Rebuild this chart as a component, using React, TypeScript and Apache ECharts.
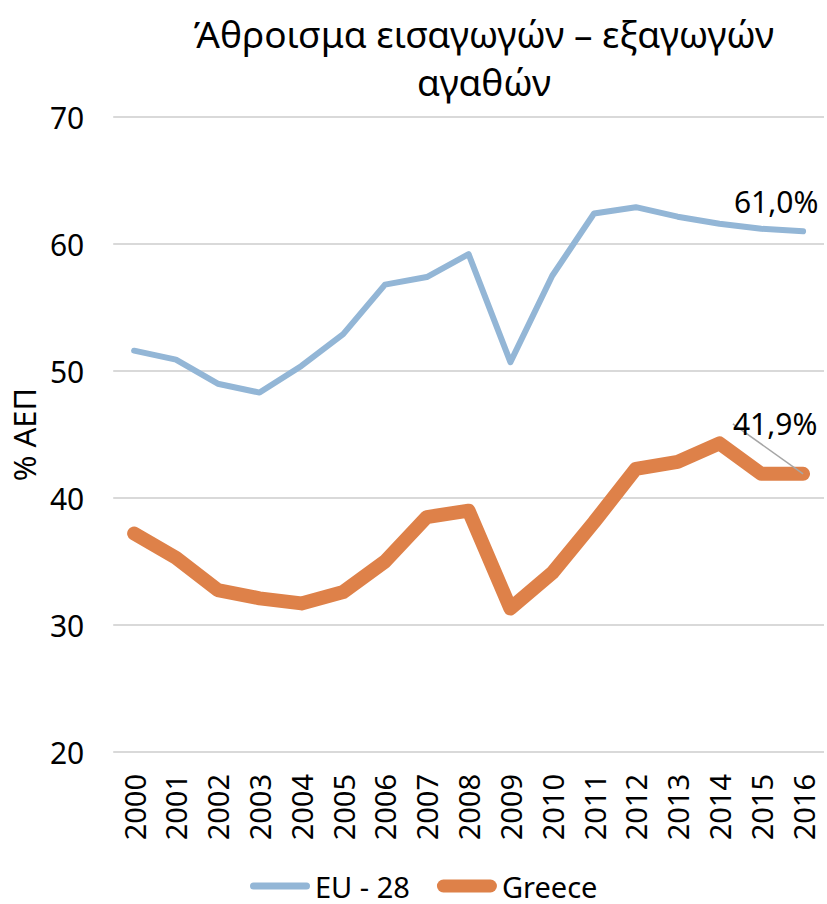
import React, { useEffect, useRef } from "react";
import * as echarts from "echarts";

const years = ["2000","2001","2002","2003","2004","2005","2006","2007","2008","2009","2010","2011","2012","2013","2014","2015","2016"];
const euValues = [51.6, 50.9, 49.0, 48.3, 50.4, 52.9, 56.8, 57.4, 59.2, 50.7, 57.5, 62.4, 62.9, 62.15, 61.6, 61.2, 61.0];
const greeceValues = [37.2, 35.3, 32.75, 32.1, 31.7, 32.6, 35.0, 38.5, 39.0, 31.3, 34.1, 38.1, 42.3, 42.85, 44.3, 41.9, 41.9];
const seriesNames = ["EU - 28", "Greece"];
const titleText = "Άθροισμα εισαγωγών – εξαγωγών\nαγαθών";
const yAxisName = "% ΑΕΠ";
const euLastLabel = "61,0%";
const greeceLastLabel = "41,9%";

const FONT = "Noto Sans";
const EU_COLOR = "#93b6d6";
const GR_COLOR = "#de8149";

const euIcon = "path://M3.5,0 L56.5,0 A3.5,3.5 0 0 1 56.5,7 L3.5,7 A3.5,3.5 0 0 1 3.5,0 Z";
const grIcon = "path://M6.5,0 L53.5,0 A6.5,6.5 0 0 1 53.5,13 L6.5,13 A6.5,6.5 0 0 1 6.5,0 Z";

export default function App() {
  const ref = useRef<HTMLDivElement>(null);
  useEffect(() => {
    document.body.style.margin = "0";
    if (!ref.current) return;
    const chart = echarts.init(ref.current, null, { renderer: "svg" });
    const last = years.length - 1;
    chart.setOption({
      animation: false,
      backgroundColor: "#ffffff",
      textStyle: { fontFamily: FONT, color: "#000" },
      title: {
        text: titleText,
        left: 479,
        textAlign: "center",
        top: 4,
        textStyle: { fontFamily: FONT, fontSize: 37, fontWeight: "normal", color: "#000", lineHeight: 48 },
      },
      grid: { left: 106, right: 3, top: 117, bottom: 152, containLabel: false },
      legend: {
        top: 870,
        left: 250,
        padding: 0,
        itemWidth: 60,
        itemHeight: 14,
        itemGap: 27,
        symbolKeepAspect: true,
        textStyle: { fontFamily: FONT, fontSize: 29, color: "#000", lineHeight: 32 },
        data: [
          { name: seriesNames[0], icon: euIcon },
          { name: seriesNames[1], icon: grIcon },
        ],
      },
      xAxis: {
        type: "category",
        data: years,
        boundaryGap: true,
        axisLine: { show: false },
        axisTick: { show: false },
        axisLabel: { rotate: 90, fontSize: 29, color: "#000", fontFamily: FONT, margin: 22 },
      },
      yAxis: {
        type: "value",
        min: 20,
        max: 70,
        interval: 10,
        name: yAxisName,
        nameLocation: "middle",
        nameGap: 66,
        nameRotate: 90,
        nameTextStyle: { fontSize: 31, color: "#000", fontFamily: FONT },
        axisLine: { show: false },
        axisTick: { show: false },
        axisLabel: { fontSize: 30, color: "#000", fontFamily: FONT, margin: 29 },
        splitLine: { lineStyle: { color: "#d9d9d9", width: 2 } },
      },
      series: [
        {
          name: seriesNames[0],
          type: "line",
          symbol: "circle",
          symbolSize: 0,
          showSymbol: true,
          showAllSymbol: true,
          data: euValues.map((v, i) =>
            i === last
              ? {
                  value: v,
                  label: {
                    show: true,
                    formatter: euLastLabel,
                    position: "top",
                    distance: 5,
                    fontSize: 30,
                    color: "#000",
                    fontFamily: FONT,
                  },
                }
              : v
          ),
          labelLayout: { dx: -27, dy: -10 },
          lineStyle: { color: EU_COLOR, width: 6, cap: "round", join: "round" },
          itemStyle: { color: EU_COLOR },
        },
        {
          name: seriesNames[1],
          type: "line",
          symbol: "circle",
          symbolSize: 0,
          showSymbol: true,
          showAllSymbol: true,
          data: greeceValues.map((v, i) =>
            i === last
              ? {
                  value: v,
                  label: {
                    show: true,
                    formatter: greeceLastLabel,
                    position: "top",
                    distance: 5,
                    fontSize: 30,
                    color: "#000",
                    fontFamily: FONT,
                  },
                  labelLine: { show: true, lineStyle: { color: "#a6a6a6", width: 1.5 } },
                }
              : v
          ),
          labelLayout: { dx: -28, dy: -30 },
          labelLine: { show: true, lineStyle: { color: "#a6a6a6", width: 1.5 } },
          lineStyle: { color: GR_COLOR, width: 14, cap: "round", join: "round" },
          itemStyle: { color: GR_COLOR },
        },
      ],
    });
    return () => chart.dispose();
  }, []);
  return <div ref={ref} style={{ width: 827, height: 904 }} />;
}
